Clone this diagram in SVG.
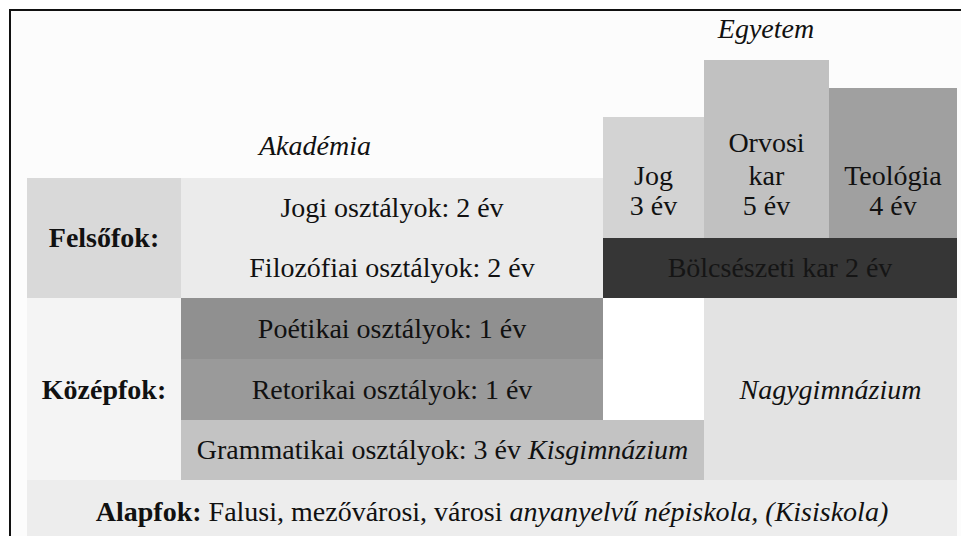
<svg xmlns="http://www.w3.org/2000/svg" width="961" height="536" viewBox="0 0 961 536">
<style>
text{font-family:"Liberation Serif","Times New Roman",serif;font-size:28px;fill:#111;text-anchor:middle}
.i{font-style:italic}
.b{font-weight:bold}
</style>
<rect x="0" y="0" width="961" height="536" fill="#ffffff"/>
<rect x="10" y="10" width="951" height="526" fill="#fcfcfc"/>
<path d="M10,536 V10 H961" fill="none" stroke="#111" stroke-width="2"/>
<g id="egyetem-label"><text class="i" x="766" y="38">Egyetem</text></g>
<g id="akademia-label"><text class="i" x="315" y="155">Akadémia</text></g>
<g id="felsofok"><rect x="27" y="178" width="154" height="120" fill="#d9d9d9"/><text class="b" x="104" y="247">Felsőfok:</text></g>
<g id="jogi"><rect x="181" y="178" width="422" height="60" fill="#ebebeb"/><text x="392" y="217">Jogi osztályok: 2 év</text></g>
<g id="filozofiai"><rect x="181" y="238" width="422" height="60" fill="#ebebeb"/><text x="392" y="277">Filozófiai osztályok: 2 év</text></g>
<g id="jog"><rect x="603" y="117" width="101" height="121" fill="#d3d3d3"/><text x="653.5" y="185">Jog</text><text x="653.5" y="215">3 év</text></g>
<g id="orvosi"><rect x="704" y="60" width="125" height="178" fill="#c1c1c1"/><text x="766.5" y="152">Orvosi</text><text x="766.5" y="185">kar</text><text x="766.5" y="215">5 év</text></g>
<g id="teologia"><rect x="829" y="88" width="128" height="150" fill="#a0a0a0"/><text x="893" y="185">Teológia</text><text x="893" y="215">4 év</text></g>
<g id="bolcseszeti"><rect x="603" y="238" width="354" height="60" fill="#363636"/><text x="780" y="277" style="fill:#151515">Bölcsészeti kar 2 év</text></g>
<g id="kozepfok"><rect x="27" y="298" width="154" height="182" fill="#f4f4f4"/><text class="b" x="104" y="399">Középfok:</text></g>
<g id="poetikai"><rect x="181" y="298" width="422" height="61" fill="#909090"/><text x="392" y="338">Poétikai osztályok: 1 év</text></g>
<g id="retorikai"><rect x="181" y="359" width="422" height="61" fill="#9a9a9a"/><text x="392" y="399">Retorikai osztályok: 1 év</text></g>
<g id="gap"><rect x="603" y="298" width="101" height="122" fill="#ffffff"/></g>
<g id="grammatikai"><rect x="181" y="420" width="523" height="60" fill="#c3c3c3"/><text x="442.5" y="459">Grammatikai osztályok: 3 év <tspan class="i">Kisgimnázium</tspan></text></g>
<g id="nagygimnazium"><rect x="704" y="298" width="253" height="182" fill="#e3e3e3"/><text class="i" x="830.5" y="399">Nagygimnázium</text></g>
<g id="alapfok"><rect x="27" y="480" width="930" height="56" fill="#ededed"/><text x="492" y="521"><tspan class="b">Alapfok:</tspan> Falusi, mezővárosi, városi <tspan class="i">anyanyelvű népiskola, (Kisiskola)</tspan></text></g>
<g id="connectors"></g>
</svg>
